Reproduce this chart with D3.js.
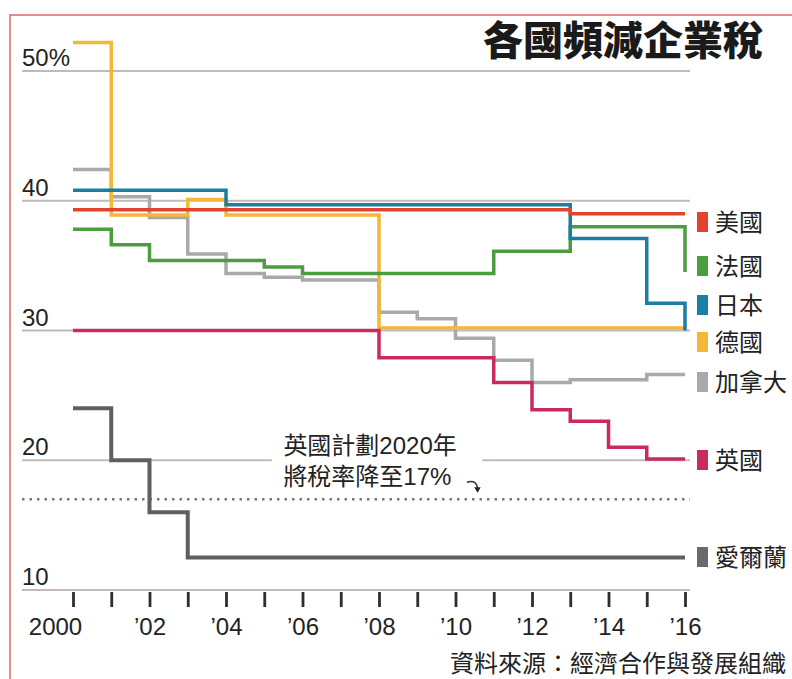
<!DOCTYPE html>
<html>
<head>
<meta charset="utf-8">
<script src="https://cdn.jsdelivr.net/npm/d3@7"></script>
<style>
  body { margin: 0; background: #fff; }
  svg { display: block; }
</style>
</head>
<body>
<svg id="chart" width="792" height="679"></svg>
<script>
// Years on the x axis
const years = [2000, 2001, 2002, 2003, 2004, 2005, 2006, 2007, 2008,
  2009, 2010, 2011, 2012, 2013, 2014, 2015, 2016];

// Corporate tax rates (%), one value per year
const usRates      = [39.3, 39.3, 39.3, 39.3, 39.3, 39.3, 39.3, 39.3, 39.3, 39.3, 39.3, 39.3, 39.3, 39.0, 39.0, 39.0, 39.0];
const franceRates  = [37.8, 36.6, 35.4, 35.4, 35.4, 34.9, 34.4, 34.4, 34.4, 34.4, 34.4, 36.1, 36.1, 38.0, 38.0, 38.0, 34.5];
const japanRates   = [40.8, 40.8, 40.8, 40.8, 39.7, 39.7, 39.7, 39.7, 39.7, 39.7, 39.7, 39.7, 39.7, 37.1, 37.1, 32.1, 30.0];
const germanyRates = [52.2, 38.9, 38.9, 40.1, 38.9, 38.9, 38.9, 38.9, 30.2, 30.2, 30.2, 30.2, 30.2, 30.2, 30.2, 30.2, 30.2];
const canadaRates  = [42.4, 40.3, 38.7, 35.9, 34.4, 34.1, 33.9, 33.9, 31.4, 30.9, 29.4, 27.7, 26.0, 26.2, 26.2, 26.6, 26.6];
const ukRates      = [30.0, 30.0, 30.0, 30.0, 30.0, 30.0, 30.0, 30.0, 27.9, 27.9, 27.9, 26.0, 23.9, 23.0, 21.0, 20.1, 20.1];
const irelandRates = [24.0, 20.0, 16.0, 12.5, 12.5, 12.5, 12.5, 12.5, 12.5, 12.5, 12.5, 12.5, 12.5, 12.5, 12.5, 12.5, 12.5];

// Labels
const countryNames = ["美國", "法國", "日本", "德國", "加拿大", "英國", "愛爾蘭"];
const yTicks = [10, 20, 30, 40, 50];
const xLabelYears = [2000, 2002, 2004, 2006, 2008, 2010, 2012, 2014, 2016];
const ukTarget = 17;
const titleText = "各國頻減企業稅";
const noteLines = ["英國計劃2020年", "將稅率降至17%"];
const sourceText = "資料來源：經濟合作與發展組織";

const seriesValues = [usRates, franceRates, japanRates, germanyRates, canadaRates, ukRates, irelandRates];
const colors = ["#e2432f", "#4c9c40", "#1b7fa3", "#f3b73a", "#a9a9a9", "#c92b5c", "#5f5f5f"];
// legend label centres (px), spread so they do not collide
const legendY = [222, 266, 305, 342, 382, 460, 557];
// draw order: grey first so coloured lines sit on top
const drawOrder = [4, 3, 1, 2, 0, 5, 6];

const numFont = "'Liberation Sans', Arial, sans-serif";
const cjkFont = "'Liberation Sans', 'Noto Sans CJK TC', sans-serif";

const svg = d3.select("#chart");

// Scales
const x = d3.scaleLinear().domain([2000, 2016]).range([73, 685]);
const y = d3.scaleLinear().domain([10, 50]).range([590, 71]);
const gridLeft = 22, gridRight = 690;

// Red frame
svg.append("path")
  .attr("d", "M10,679 V15 H792")
  .attr("fill", "none")
  .attr("stroke", "#e0636b")
  .attr("stroke-width", 1.5);

// Gridlines
svg.append("g").selectAll("line")
  .data(yTicks)
  .enter().append("line")
  .attr("x1", gridLeft).attr("x2", gridRight)
  .attr("y1", d => y(d)).attr("y2", d => y(d))
  .attr("stroke", "#c2baba")
  .attr("stroke-width", 2);

// Y labels
svg.append("g").selectAll("text")
  .data(yTicks)
  .enter().append("text")
  .attr("x", gridLeft)
  .attr("y", d => y(d) - 5)
  .attr("font-family", numFont)
  .attr("font-size", 24)
  .attr("fill", "#222")
  .text(d => d === 50 ? "50%" : d);

// X axis ticks
const xAxis = d3.axisBottom(x)
  .tickValues(years)
  .tickSize(15)
  .tickFormat(d => xLabelYears.includes(d) ? (d === 2000 ? "2000" : "\u2019" + String(d).slice(2)) : "");

const axisG = svg.append("g")
  .attr("transform", `translate(0,${y(10) + 2})`)
  .call(xAxis);
axisG.select(".domain").remove();
axisG.selectAll(".tick line")
  .attr("stroke", "#2e2e2e")
  .attr("stroke-width", 2.8);
axisG.selectAll(".tick text")
  .attr("font-family", numFont)
  .attr("font-size", 24)
  .attr("fill", "#222")
  .attr("dy", "0.9em")
  .attr("y", 21)
  .attr("dx", d => d === 2000 ? -18 : 0);

// 17% target dotted line
svg.append("line")
  .attr("x1", gridLeft).attr("x2", gridRight)
  .attr("y1", y(ukTarget)).attr("y2", y(ukTarget))
  .attr("stroke", "#7a7a7a")
  .attr("stroke-width", 2.5)
  .attr("stroke-dasharray", "2.5,5");

// Annotation with white box over the 20% gridline
const note = svg.append("g");
note.append("rect")
  .attr("x", x(2005.2)).attr("y", y(21.3))
  .attr("width", x(2010.7) - x(2005.2))
  .attr("height", y(17.5) - y(21.3))
  .attr("fill", "#fff");
note.selectAll("text")
  .data(noteLines)
  .enter().append("text")
  .attr("x", x(2005.5))
  .attr("y", (d, i) => y(20.5) + i * 31)
  .attr("font-family", cjkFont)
  .attr("font-size", 24)
  .attr("fill", "#222")
  .text(d => d);

// small curved arrow
const ax0 = x(2010.3), ay0 = y(17) - 17, ax1 = x(2010.58), ay1 = y(17) - 8;
note.append("path")
  .attr("d", `M${ax0},${ay0} Q${ax1 - 1},${ay0 - 3} ${ax1},${ay1 - 2}`)
  .attr("fill", "none")
  .attr("stroke", "#333")
  .attr("stroke-width", 1.6);
note.append("path")
  .attr("d", `M${ax1 - 3.5},${ay1 - 4} L${ax1 + 3},${ay1 - 4} L${ax1},${ay1 + 1.5}Z`)
  .attr("fill", "#222");

// Lines
const line = d3.line()
  .x((d, i) => x(years[i]))
  .y(d => y(d))
  .curve(d3.curveStepAfter);

svg.append("g").selectAll("path")
  .data(drawOrder)
  .enter().append("path")
  .attr("d", k => line(seriesValues[k]))
  .attr("fill", "none")
  .attr("stroke", k => colors[k])
  .attr("stroke-width", k => k === 6 ? 4 : 3.5)
  .attr("stroke-linejoin", "miter");

// Legend
const legend = svg.append("g").selectAll("g")
  .data(countryNames)
  .enter().append("g")
  .attr("transform", (d, i) => `translate(697,${legendY[i]})`);
legend.append("rect")
  .attr("x", 0).attr("y", -10)
  .attr("width", 11).attr("height", 20)
  .attr("fill", (d, i) => i === 6 ? "#6a6a6a" : colors[i]);
legend.append("text")
  .attr("x", 18).attr("y", 9)
  .attr("font-family", cjkFont)
  .attr("font-size", 24)
  .attr("fill", "#222")
  .text(d => d);

// Title
svg.append("text")
  .attr("x", 763).attr("y", 55)
  .attr("text-anchor", "end")
  .attr("font-family", "'Noto Sans CJK TC', sans-serif")
  .attr("font-weight", 900)
  .attr("font-size", 40)
  .attr("fill", "#1a1a1a")
  .text(titleText);

// Source
svg.append("text")
  .attr("x", 786).attr("y", 672)
  .attr("text-anchor", "end")
  .attr("font-family", cjkFont)
  .attr("font-size", 24)
  .attr("fill", "#222")
  .text(sourceText);
</script>
</body>
</html>
